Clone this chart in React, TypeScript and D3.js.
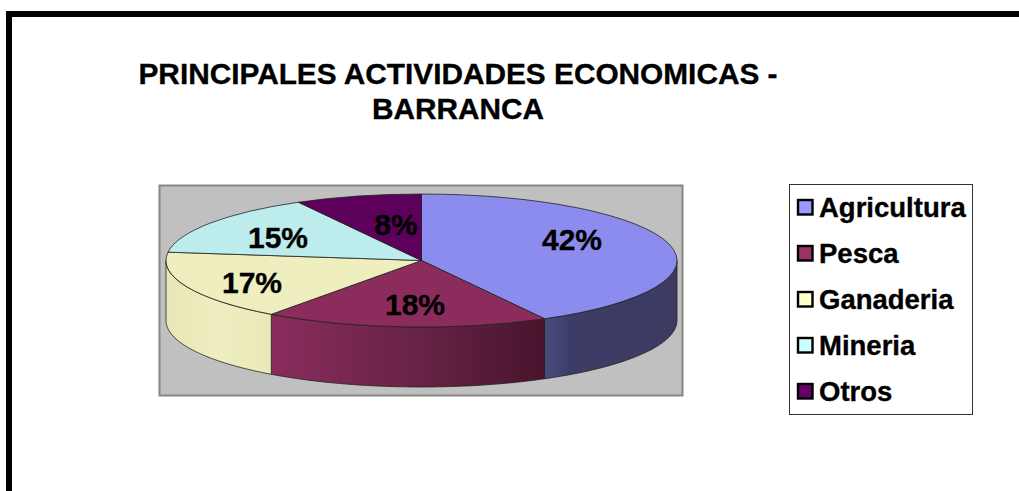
import React from "react";
import * as d3 from "d3";

const categories = ["Agricultura", "Pesca", "Ganaderia", "Mineria", "Otros"];
const values = [42, 18, 17, 15, 8];
const topColors = ["#8c8cee", "#8c2c5c", "#eeeebe", "#bcecec", "#5c005c"];
const legendColors = ["#9999ff", "#993366", "#ffffcc", "#ccffff", "#660066"];
const sideStops: string[][] = [
  ["#4a4e7e", "#3c3c66", "#3b3b62"],
  ["#8a2c5c", "#6a2448", "#48142c"],
  ["#e6e6b6", "#eeeec0", "#e8e8b8"],
  ["#bcecec", "#bcecec", "#bcecec"],
  ["#5c005c", "#5c005c", "#5c005c"],
];
const titleLines = ["PRINCIPALES ACTIVIDADES ECONOMICAS -", "BARRANCA"];
const labelPos: [number, number][] = [[572, 250], [415, 315], [252, 293], [278, 248], [396, 235]];

const W = 1019, H = 491;
const cx = 421.5, cy = 260.5, rx = 255.5, ry = 66.5, depth = 60;
const FONT = "'Liberation Sans', Arial, sans-serif";
const HEAVY = { stroke: "#000", strokeWidth: 0.35 };

const arcs = d3.pie<number>().sort(null)(values);
const arcGen = d3.arc<d3.PieArcDatum<number>>().innerRadius(0).outerRadius(rx);
const line = d3.line<[number, number]>();
const px = (a: number) => cx + rx * Math.sin(a);
const py = (a: number) => cy - ry * Math.cos(a);

function sidePath(start: number, end: number) {
  const s = Math.max(start, Math.PI / 2);
  const e = Math.min(end, (3 * Math.PI) / 2);
  if (e <= s) return null;
  const angles = d3.range(0, 61).map((i) => s + ((e - s) * i) / 60);
  const top = angles.map((a) => [px(a), py(a)] as [number, number]);
  const bottom = angles.slice().reverse().map((a) => [px(a), py(a) + depth] as [number, number]);
  return { d: line([...top, ...bottom]) + "Z", x1: Math.min(px(s), px(e)), x2: Math.max(px(s), px(e)) };
}

export default function App() {
  return (
    <svg width={W} height={H} style={{ position: "fixed", left: 0, top: 0, background: "#fff" }}>
      <defs>
        {arcs.map((a, i) => {
          const p = sidePath(a.startAngle, a.endAngle);
          if (!p) return null;
          return (
            <linearGradient key={i} id={`side${i}`} gradientUnits="userSpaceOnUse" x1={p.x1} x2={p.x2} y1={0} y2={0}>
              {sideStops[i].map((c, j) => (
                <stop key={j} offset={j === 1 ? (i === 0 ? 0.2 : 0.5) : j / 2} stopColor={c} />
              ))}
            </linearGradient>
          );
        })}
      </defs>
      <path d={`M9 ${H}V14H${W}`} fill="none" stroke="#000" strokeWidth={6} />
      <g fontFamily={FONT} fontWeight="bold" fontSize={29.8} textAnchor="middle" fill="#000" {...HEAVY}>
        {titleLines.map((t, i) => (
          <text key={i} x={458} y={84 + i * 35}>{t}</text>
        ))}
      </g>
      <rect x={159.5} y={185.5} width={523} height={210} fill="#c0c0c0" stroke="#868686" strokeWidth={2} />
      {arcs.map((a, i) => {
        const p = sidePath(a.startAngle, a.endAngle);
        return p ? <path key={i} d={p.d} fill={`url(#side${i})`} stroke="#222" strokeWidth={0.8} /> : null;
      })}
      {arcs.map((a, i) => (
        <path
          key={i}
          d={arcGen(a) as string}
          transform={`translate(${cx},${cy}) scale(1,${ry / rx})`}
          fill={topColors[i]}
          stroke="#222"
          strokeWidth={0.8}
          vectorEffect="non-scaling-stroke"
        />
      ))}
      <g fontFamily={FONT} fontWeight="bold" fontSize={30} textAnchor="middle" fill="#000" {...HEAVY}>
        {values.map((v, i) => (
          <text key={i} x={labelPos[i][0]} y={labelPos[i][1]}>{v}%</text>
        ))}
      </g>
      <rect x={789.5} y={184.5} width={183} height={230} fill="#fff" stroke="#333" strokeWidth={1} />
      {categories.map((c, i) => (
        <g key={c} transform={`translate(0,${i * 46})`}>
          <rect x={798} y={200} width={14.5} height={14.5} fill={legendColors[i]} stroke="#000" strokeWidth={2.4} />
          <text x={819} y={217} fontFamily={FONT} fontWeight="bold" fontSize={27.5} fill="#000" {...HEAVY}>{c}</text>
        </g>
      ))}
    </svg>
  );
}
